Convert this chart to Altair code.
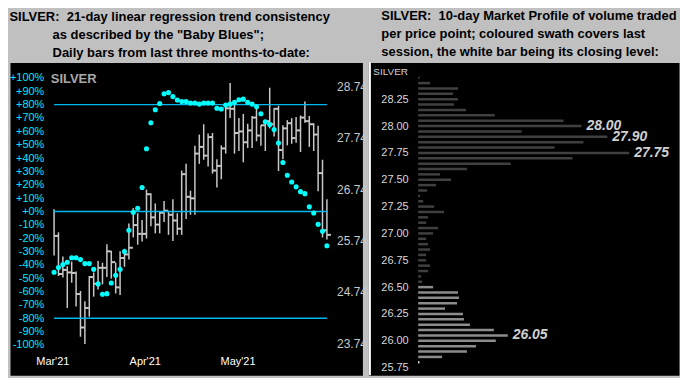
import altair as alt
import pandas as pd

FONT = "Liberation Sans"

# ---------------- Left panel data: daily bars (price) and Baby Blues (%) ----------------
high = [26.35, 25.90, 25.43, 25.24, 25.33, 25.14, 24.76, 24.56, 25.05, 25.12,
        25.34, 25.31, 25.67, 25.54, 25.31, 25.53, 25.58, 26.07, 26.37, 26.27,
        26.14, 26.73, 26.66, 26.46, 26.30, 26.51, 26.32, 26.54, 26.27, 27.10,
        27.23, 26.71, 27.58, 27.80, 28.00, 27.82, 27.83, 27.32, 27.59, 28.41,
        28.80, 28.39, 28.12, 28.20, 28.01, 28.16, 28.30, 27.98, 28.08, 28.71,
        28.31, 28.36, 27.98, 28.08, 28.12, 28.14, 28.17, 28.44, 28.16, 28.02,
        27.97, 27.31, 26.54]
low = [25.45, 25.05, 25.02, 24.43, 24.92, 24.46, 23.87, 23.73, 24.26, 24.65,
       24.79, 24.89, 25.03, 25.00, 24.71, 24.68, 25.23, 25.37, 25.80, 25.66,
       25.72, 25.78, 26.02, 25.88, 25.88, 26.10, 25.85, 25.73, 25.85, 25.85,
       26.16, 26.24, 26.24, 27.23, 27.31, 27.18, 27.04, 26.77, 26.93, 27.43,
       28.12, 27.43, 27.48, 27.26, 27.54, 27.54, 27.67, 27.58, 27.48, 27.92,
       27.76, 27.09, 27.32, 27.59, 27.62, 27.64, 27.46, 28.03, 27.56, 27.48,
       26.70, 25.80, 25.76]
close = [25.83, 25.09, 25.17, 25.12, 25.11, 24.70, 24.05, 24.43, 25.03, 24.90,
         25.21, 25.21, 25.53, 25.32, 24.83, 25.40, 25.47, 25.60, 26.04, 25.87,
         25.87, 26.64, 26.19, 26.05, 26.28, 26.32, 26.24, 26.13, 25.97, 27.03,
         26.59, 26.56, 27.43, 27.56, 27.39, 27.75, 27.10, 27.19, 27.53, 28.31,
         28.30, 27.83, 27.86, 27.65, 27.88, 28.13, 27.78, 27.98, 28.06, 28.00,
         28.30, 27.50, 27.92, 28.02, 27.73, 27.88, 28.13, 28.06, 28.00, 27.80,
         27.05, 25.94, 25.85]
baby_blues = [-45.6, -42.0, -39.8, -38.1, -34.7, -34.7, -36.1, -39.1, -39.1, -43.4,
              -54.3, -62.1, -61.6, -53.6, -47.8, -43.4, -30.1, -14.1, -0.7, 2.4,
              17.9, 47.0, 66.4, 76.1, 80.9, 88.2, 89.0, 86.0, 83.4, 82.4,
              82.4, 81.2, 81.2, 80.4, 81.2, 81.2, 81.2, 77.3, 76.7, 79.7,
              80.4, 81.7, 83.6, 84.1, 81.7, 80.4, 78.4, 73.2, 67.1, 65.2,
              61.3, 51.3, 36.6, 27.1, 22.0, 18.4, 14.8, 13.3, 3.4, -1.2,
              -9.7, -14.8, -25.7]
month_labels = ["Mar'21", "Apr'21", "May'21"]
month_pos = [-0.4, 20.6, 41.7]
pct_levels = [80, 0, -80]
pct_ticks = list(range(-100, 101, 10))
price_ticks = [23.74, 24.74, 25.74, 26.74, 27.74, 28.74]

# ---------------- Right panel data: 10-day market profile ----------------
mp_price = [28.45, 28.40, 28.35, 28.30, 28.25, 28.20, 28.15, 28.10, 28.05, 28.00,
            27.95, 27.90, 27.85, 27.80, 27.75, 27.70, 27.65, 27.60, 27.55, 27.50,
            27.45, 27.40, 27.35, 27.30, 27.25, 27.20, 27.15, 27.10, 27.05, 27.00,
            26.95, 26.90, 26.85, 26.80, 26.75, 26.70, 26.65, 26.60, 26.55, 26.50,
            26.45, 26.40, 26.35, 26.30, 26.25, 26.20, 26.15, 26.10, 26.05, 26.00,
            25.95, 25.90, 25.85, 25.80]
mp_volume = [1.3, 12, 40, 35, 40, 36, 48, 77, 146, 164,
             104, 190, 166, 137, 212, 155, 93, 49, 22, 33,
             18, 9, 2, 5, 16, 26, 10, 8, 20, 15,
             8, 10, 12, 8, 8, 12, 10, 3, 4, 15,
             40, 41, 39, 27, 45, 46, 52, 76, 90, 78,
             58, 49, 24, 1.2]
mp_session = ["prior"] * 39 + ["last"] * 14 + ["close"]
mp_label_price = [28.00, 27.90, 27.75, 26.05]
profile_ticks = [25.75, 26.00, 26.25, 26.50, 26.75, 27.00, 27.25, 27.50, 27.75, 28.00, 28.25]

LEFT_W, RIGHT_W, H = 354, 312, 314
INDENT = "\u200b" + "\u00a0" * 12

# ---------------- Left panel ----------------
n = len(close)
df = pd.DataFrame({"i": list(range(n)), "high": high, "low": low,
                   "close": close, "pct": baby_blues})
rules_df = pd.DataFrame({"level": pct_levels, "x0": [0] * len(pct_levels),
                         "x1": [n - 1] * len(pct_levels)})

x_scale = alt.Scale(domain=[-10.02, 70.07], nice=False, zero=False, padding=0)
label_expr = "[" + ",".join('"%s"' % m for m in month_labels) + "][indexof([" + \
    ",".join(str(p) for p in month_pos) + "], datum.value)]"
x_axis = alt.Axis(orient="bottom", values=month_pos, labelExpr=label_expr, offset=-20,
                  domain=False, ticks=False, tickSize=0, grid=False, labelPadding=0,
                  labelColor="white", labelFont=FONT, labelFontSize=11,
                  labelAlign="center", labelBaseline="top", title=None,
                  labelFlush=False, labelOverlap=False, tickCount=50)

price_scale = alt.Scale(domain=[23.123, 29.1985], nice=False, zero=False, padding=0)
price_axis = alt.Axis(orient="right", values=price_ticks, format=".2f", offset=-26,
                      labelPadding=0, tickSize=0, ticks=False, domain=False, grid=False,
                      labelColor="#c8c8c8", labelFont=FONT, labelFontSize=12,
                      labelAlign="left", labelBaseline="middle", title=None,
                      labelOverlap=False, labelFlush=False, tickCount=50)

hl = alt.Chart(df).mark_rule(color="#c8c8c8", strokeWidth=1.5).encode(
    x=alt.X("i:Q", scale=x_scale, axis=x_axis),
    y=alt.Y("high:Q", scale=price_scale, axis=price_axis),
    y2="low:Q",
)
cl = alt.Chart(df).mark_tick(orient="horizontal", size=4, thickness=2, xOffset=2,
                             color="#c8c8c8", opacity=1).encode(
    x=alt.X("i:Q"),
    y=alt.Y("close:Q"),
)

pct_scale = alt.Scale(domain=[-122.7, 111.5], nice=False, zero=False, padding=0)
pct_axis = alt.Axis(orient="left", values=pct_ticks,
                    labelExpr="(datum.value >= 0 ? '+' : '') + datum.value + '%'",
                    offset=-34, labelPadding=0, tickSize=0, ticks=False, domain=False,
                    grid=False, labelColor="#00e8ff", labelFont=FONT, labelFontSize=11,
                    labelAlign="right", labelBaseline="middle", title=None,
                    labelOverlap=False, labelFlush=False, tickCount=50)

lv = alt.Chart(rules_df).mark_rule(color="#00b8f0", strokeWidth=1.5).encode(
    x=alt.X("x0:Q"), x2="x1:Q",
    y=alt.Y("level:Q", scale=pct_scale, axis=pct_axis),
)
dots = alt.Chart(df).mark_point(filled=True, shape="circle", size=26,
                                color="#00ffff", opacity=1).encode(
    x=alt.X("i:Q"),
    y=alt.Y("pct:Q"),
)
silver_left = alt.Chart(pd.DataFrame({"t": ["SILVER"]})).mark_text(
    align="left", baseline="middle", font=FONT, fontSize=13, fontWeight="bold",
    color="#a8a8a8").encode(x=alt.value(41), y=alt.value(16.5), text="t:N")

left = alt.layer(
    alt.layer(hl, cl),
    alt.layer(lv, dots),
    silver_left,
).resolve_scale(y="independent").properties(
    width=LEFT_W, height=H,
    title=alt.Title(
        text=["SILVER:\u00a0\u00a021-day linear regression trend consistency",
              INDENT + "as described by the \"Baby Blues\";",
              INDENT + "Daily bars from last three months-to-date:"],
        anchor="start", font=FONT, fontSize=13, fontWeight="bold", color="black",
        lineHeight=18, offset=3),
)

# ---------------- Right panel ----------------
mp_df = pd.DataFrame({"price": mp_price, "volume": mp_volume, "session": mp_session})
lab_df = mp_df[mp_df["price"].isin(mp_label_price)]

mp_y = alt.Scale(domain=[25.680, 28.591], nice=False, zero=False, padding=0)
mp_x = alt.Scale(domain=[-50, 262], nice=False, padding=0)
mp_axis = alt.Axis(orient="left", values=profile_ticks, format=".2f", offset=-40,
                   labelPadding=0, tickSize=0, ticks=False, domain=False, grid=False,
                   labelColor="#d8d8d8", labelFont=FONT, labelFontSize=11,
                   labelAlign="right", labelBaseline="middle", title=None,
                   labelOverlap=False, labelFlush=False, tickCount=50)

prof = alt.Chart(mp_df).mark_bar(orient="horizontal", size=2.5).encode(
    x=alt.X("volume:Q", scale=mp_x, axis=None),
    y=alt.Y("price:Q", scale=mp_y, axis=mp_axis),
    color=alt.Color("session:N", legend=None,
                    scale=alt.Scale(domain=["prior", "last", "close"],
                                    range=["#404040", "#8c8c8c", "#ffffff"])),
)
prof_labels = alt.Chart(lab_df).mark_text(
    align="left", baseline="middle", dx=5, font=FONT, fontSize=14,
    fontWeight="bold", fontStyle="italic", color="#d0d0d0").encode(
    x=alt.X("volume:Q"), y=alt.Y("price:Q"),
    text=alt.Text("price:Q", format=".2f"),
)
edge = alt.Chart(pd.DataFrame({"a": [0]})).mark_rule(color="white", strokeWidth=2).encode(
    x=alt.value(1.5), y=alt.value(0), y2=alt.value(H))
silver_right = alt.Chart(pd.DataFrame({"t": ["SILVER"]})).mark_text(
    align="left", baseline="middle", font=FONT, fontSize=10,
    color="#d0d0d0").encode(x=alt.value(5), y=alt.value(9), text="t:N")

right = alt.layer(prof, prof_labels, edge, silver_right).properties(
    width=RIGHT_W, height=H,
    title=alt.Title(
        text=["SILVER:\u00a0\u00a010-day Market Profile of volume traded",
              "per price point; coloured swath covers last",
              "session, the white bar being its closing level:"],
        anchor="start", font=FONT, fontSize=13, fontWeight="bold", color="black",
        lineHeight=18, offset=3, dx=13),
)

chart = alt.hconcat(left, right, spacing=6, bounds="flush").properties(
    background="#c0c0c0", padding=0,
).configure_view(fill="black", stroke="transparent")

chart.save("out.html", embed_options={"renderer": "svg", "actions": False})
